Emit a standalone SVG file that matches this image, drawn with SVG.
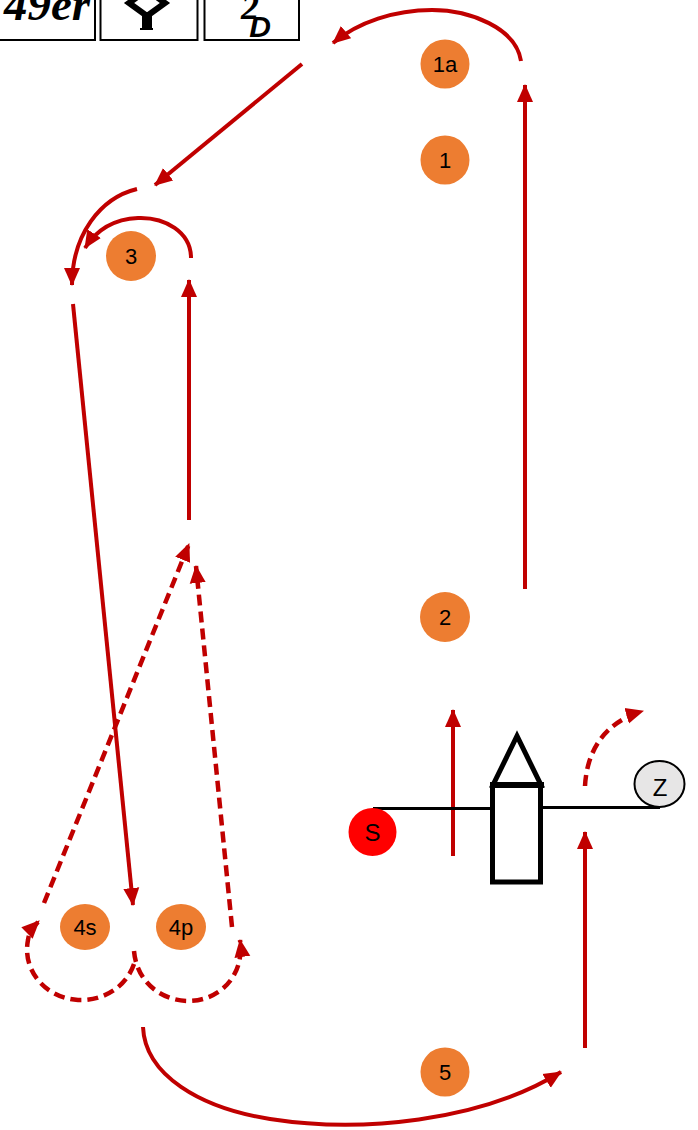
<svg xmlns="http://www.w3.org/2000/svg" width="698" height="1130" viewBox="0 0 698 1130">
<style>
text{font-family:"Liberation Sans",Arial,sans-serif;font-size:22px;fill:#000;text-anchor:middle}
.r{fill:none;stroke:#c00000;stroke-width:4}
.d{stroke-dasharray:11 6;stroke-width:4.500}
.o{fill:#ed7d31}
.b{fill:#fff;stroke:#000;stroke-width:2}
.k{fill:none;stroke:#000;stroke-width:3}
</style>
<defs>
<marker id="a" markerUnits="userSpaceOnUse" markerWidth="20" markerHeight="20" refX="17" refY="9" orient="auto"><path d="M0 1L18 9L0 17z" fill="#c00000"/></marker>
</defs>
<rect width="698" height="1130" fill="#fff"/>
<g id="badge-49er"><rect class="b" x="-2" y="-10" width="97" height="50"/><text x="47" y="20" style="font-family:'Liberation Serif',serif;font-weight:bold;font-style:italic;font-size:47px">49er</text></g>
<g id="badge-y"><rect class="b" x="100.500" y="-10" width="97" height="50"/><path d="M147 -10L165 3L147 16L129 3z" fill="none" stroke="#000" stroke-width="6"/><path d="M142 16H152V28H153V30H140V28H142z" fill="#000"/></g>
<g id="badge-2d"><rect class="b" x="204.500" y="-10" width="94.500" height="50"/><text x="250" y="19" style="font-family:'Liberation Serif',serif;font-weight:bold;font-style:italic;font-size:36px">2</text><text x="260" y="37" style="font-family:'Liberation Sans',sans-serif;font-weight:bold;font-style:italic;font-size:30px">D</text></g>
<g id="connectors">
<path class="r" d="M525 589V85" marker-end="url(#a)"/>
<path class="r" d="M521 61C516 28 470 10 432 10C395 10 358 22 333 43" marker-end="url(#a)"/>
<path class="r" d="M302 64L155 185" marker-end="url(#a)"/>
<path class="r" d="M137 189C100 198 72 235 72 285" marker-end="url(#a)"/>
<path class="r" d="M191 258C191 232 165 217 138 218C115 219 97 229 85 248" marker-end="url(#a)"/>
<path class="r" d="M189 520V280" marker-end="url(#a)"/>
<path class="r" d="M73 304L133 905" marker-end="url(#a)"/>
<path class="r d" d="M44 903L189 544" marker-end="url(#a)"/>
<path class="r d" d="M232 927L196 566" marker-end="url(#a)"/>
<path class="r d" d="M134 964C125 990 100 1001 78 1000C45 998 22 970 28 940C29 933 32 928 39 921" marker-end="url(#a)"/>
<path class="r d" d="M134 951C137 985 165 1001 188 1001C220 1001 245 975 240 940" marker-end="url(#a)"/>
<path class="r" d="M143 1027C145 1075 200 1108 270 1119C360 1133 480 1122 561 1072" marker-end="url(#a)"/>
<path class="r" d="M585 1048V832" marker-end="url(#a)"/>
<path class="r" d="M453 856V710" marker-end="url(#a)"/>
<path class="r d" d="M585 786C587 750 605 722 643 711" marker-end="url(#a)"/>
</g>
<g id="players">
<path class="k" d="M373 808.500H492"/>
<path class="k" d="M542 807.500H660"/>
<path d="M493 785H541L517 736z" fill="none" stroke="#000" stroke-width="5"/>
<rect x="492.500" y="785" width="48" height="97" fill="none" stroke="#000" stroke-width="5"/>
<path d="M490 785H544" stroke="#000" stroke-width="6"/>
</g>
<g id="n1a"><circle class="o" cx="445" cy="64" r="24.500"/><text x="445" y="72">1a</text></g>
<g id="n1"><circle class="o" cx="445" cy="160" r="24.500"/><text x="445" y="168">1</text></g>
<g id="n3"><circle class="o" cx="131" cy="256" r="25"/><text x="131" y="264">3</text></g>
<g id="n2"><circle class="o" cx="445" cy="617" r="25"/><text x="445" y="625">2</text></g>
<g id="n4s"><ellipse class="o" cx="85" cy="927" rx="25" ry="23"/><text x="85" y="935">4s</text></g>
<g id="n4p"><ellipse class="o" cx="181" cy="927" rx="25" ry="23"/><text x="181" y="935">4p</text></g>
<g id="n5"><circle class="o" cx="445" cy="1072" r="24.500"/><text x="445" y="1080">5</text></g>
<g id="nS"><circle cx="372.500" cy="832" r="24" fill="#ff0000"/><text x="372.500" y="841" style="font-size:24px">S</text></g>
<g id="nZ"><ellipse cx="659.500" cy="784" rx="25" ry="23" fill="#e7e6e6" stroke="#000" stroke-width="2"/><text x="660" y="796" style="font-size:24px">Z</text></g>
</svg>
